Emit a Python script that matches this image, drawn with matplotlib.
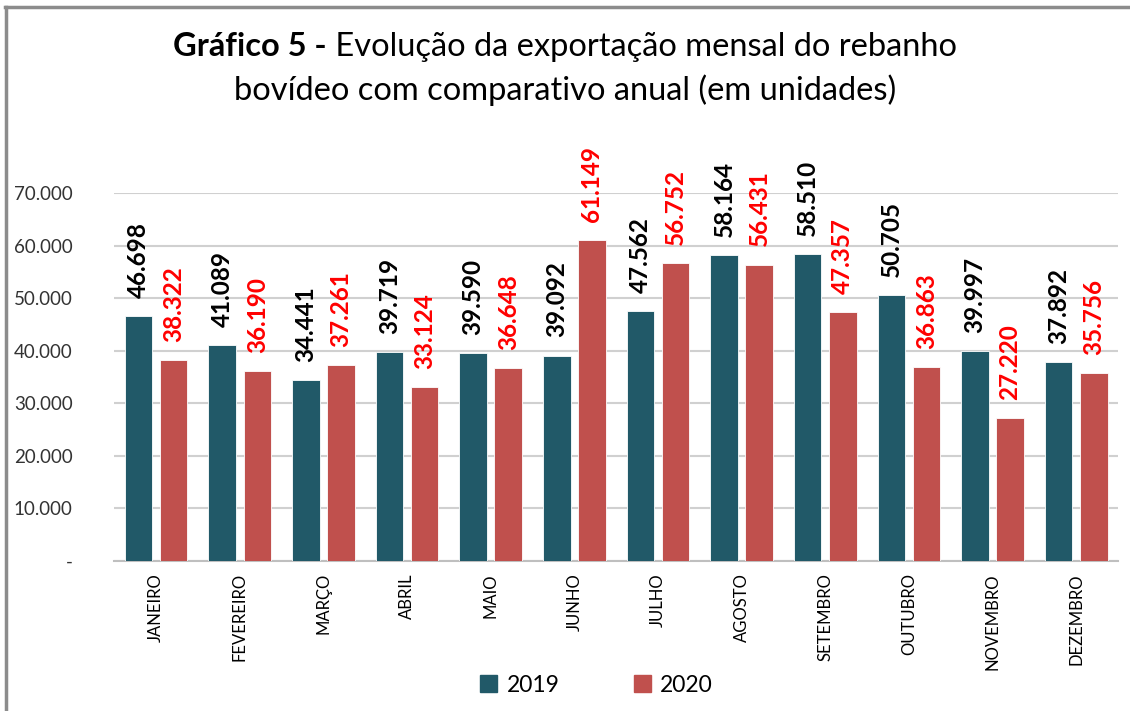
import matplotlib
matplotlib.use("Agg")
import matplotlib.pyplot as plt
from matplotlib.patches import Patch
from matplotlib.lines import Line2D
import numpy as np

plt.rcParams['font.family'] = ['Lato', 'DejaVu Sans']

meses = ['JANEIRO', 'FEVEREIRO', 'MARÇO', 'ABRIL', 'MAIO', 'JUNHO', 'JULHO',
         'AGOSTO', 'SETEMBRO', 'OUTUBRO', 'NOVEMBRO', 'DEZEMBRO']
v2019 = [46698, 41089, 34441, 39719, 39590, 39092, 47562, 58164, 58510, 50705, 39997, 37892]
v2020 = [38322, 36190, 37261, 33124, 36648, 61149, 56752, 56431, 47357, 36863, 27220, 35756]
yticks = [0, 10000, 20000, 30000, 40000, 50000, 60000, 70000]

c19 = '#215968'
c20 = '#C0504D'


def fmt(v):
    if v == 0:
        return '-'
    return '{:,}'.format(v).replace(',', '.')


fig = plt.figure(figsize=(11.3, 7.11), dpi=100)
ax = fig.add_axes([114.3 / 1130, 1 - 560.7 / 711, 1003.7 / 1130, (560.7 - 193.3) / 711])

x = np.arange(len(meses))
w = 0.33
ax.bar(x - 0.21, v2019, w, color=c19, edgecolor='white', linewidth=0.6, zorder=3)
ax.bar(x + 0.21, v2020, w, color=c20, edgecolor='white', linewidth=0.6, zorder=3)

# rotulos de dados
for xi, v in zip(x, v2019):
    ax.annotate(fmt(v), (xi - 0.21, v), xytext=(0, 13), textcoords='offset points',
                rotation=90, ha='center', va='bottom', fontsize=17.5,
                fontweight='bold', color='black', annotation_clip=False)
for xi, v in zip(x, v2020):
    ax.annotate(fmt(v), (xi + 0.21, v), xytext=(0, 13), textcoords='offset points',
                rotation=90, ha='center', va='bottom', fontsize=17.5,
                fontweight='bold', color='#FF0000', annotation_clip=False)

ax.set_xlim(-0.5, len(meses) - 0.5)
ax.set_ylim(0, 70000)
ax.set_yticks(yticks)
ax.set_yticklabels([fmt(t) for t in yticks], fontsize=13.5, color='#333333')
ax.set_xticks(x)
ax.set_xticklabels(meses, rotation=90, fontsize=12, color='black', va='top')
ax.tick_params(axis='y', length=0, pad=30)
ax.tick_params(axis='x', length=0, pad=9)
ax.yaxis.grid(True, color='#D0D0D0', linewidth=1.5, zorder=0)
ax.set_axisbelow(True)
for s in ['top', 'right', 'left']:
    ax.spines[s].set_visible(False)
ax.spines['bottom'].set_color('#BFBFBF')
ax.spines['bottom'].set_linewidth(1.5)

# titulo com prefixo em negrito
fig.canvas.draw()
r = fig.canvas.get_renderer()
tsize = 23.5
t1 = fig.text(0, 0, 'Gráfico 5 -', fontsize=tsize, fontweight='bold')
t2 = fig.text(0, 0, ' Evolução da exportação mensal do rebanho', fontsize=tsize)
w1 = t1.get_window_extent(r).width
w2 = t2.get_window_extent(r).width
start = (565 - (w1 + w2) / 2) / 1130
yl1 = 1 - 47 / 711
t1.set_position((start, yl1))
t1.set_va('center')
t2.set_position((start + w1 / 1130, yl1))
t2.set_va('center')
fig.text(565 / 1130, 1 - 90 / 711, 'bovídeo com comparativo anual (em unidades)',
         fontsize=tsize, ha='center', va='center')

# legenda
handles = [Patch(color=c19, label='2019'), Patch(color=c20, label='2020')]
fig.legend(handles=handles, loc='center', bbox_to_anchor=(0.528, 1 - 685 / 711), ncol=2,
           frameon=False, fontsize=16.5, handlelength=0.75, handleheight=0.75,
           handletextpad=0.4, columnspacing=3.25)

# moldura
fig.add_artist(Line2D([6 / 1130, 6 / 1130], [0, 1 - 7 / 711], color='#8C8C8C',
                      linewidth=2.5, transform=fig.transFigure))
fig.add_artist(Line2D([5 / 1130, 1], [1 - 7 / 711, 1 - 7 / 711], color='#8C8C8C',
                      linewidth=2.5, transform=fig.transFigure))

fig.savefig('out.png', dpi=100)
